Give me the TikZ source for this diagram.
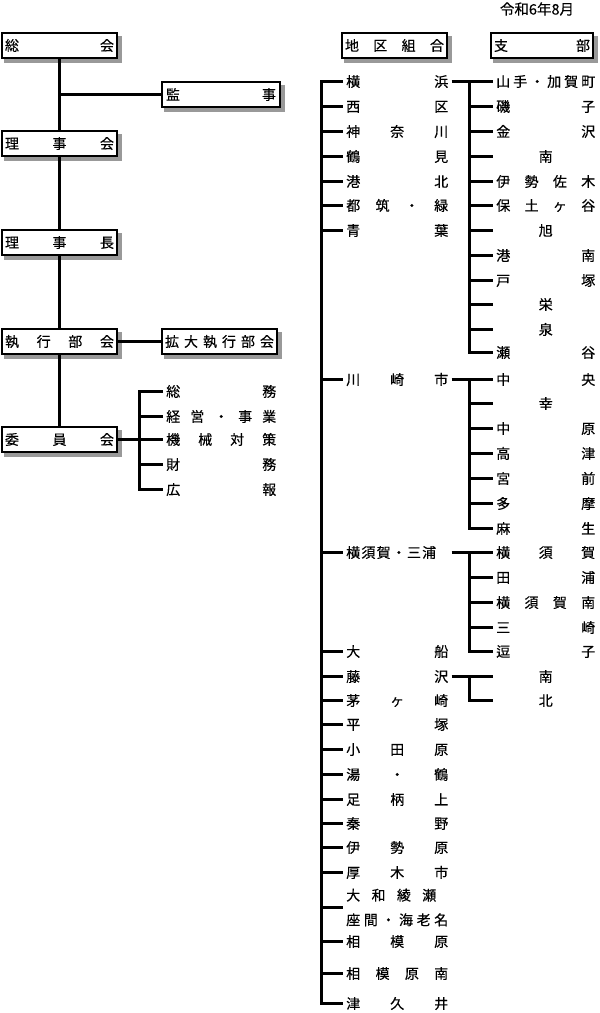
\documentclass[tikz,border=0pt]{standalone}
\usepackage{fontspec}
\newfontfamily\jfont{Noto Sans CJK JP}[FakeBold=0.4]
\usetikzlibrary{backgrounds}
\makeatletter
% spread the characters of #2 evenly over a box of width #1
\def\kt@go#1\kt@end{\@tfor\kt@c:=#1\do{\kt@sep\kt@c\let\kt@sep\hfill}}
\newcommand\kintou[2]{\edef\kt@arg{#2}%
  \makebox[#1][s]{\let\kt@sep\relax\expandafter\kt@go\kt@arg\kt@end}}
\makeatother

\begin{document}
\begin{tikzpicture}[x=1pt, y=-1pt, line width=2.5pt,
    font=\jfont\fontsize{14}{24.6}\selectfont,
    orgbox/.style={draw, line width=2.2pt, fill=white, inner xsep=3pt, inner ysep=0pt,
        minimum height=25pt, text height=12.3pt, text depth=1.7pt},
    item/.style={anchor=west, inner xsep=2pt, inner ysep=0pt,
        text height=12.3pt, text depth=1.7pt}]
    % page is 600 x 1013 (1 unit = 1pt, y downwards)
    \useasboundingbox (0,0) rectangle (600,1013);
    \def\dw{102pt}   % width of a district name
    \def\bw{99pt}    % width of a branch name
    \coordinate (ibus) at (139.5,0);
    \coordinate (dbus) at (321.5,0);
    \coordinate (bbus) at (469.5,0);

    \node (date) at (537,9) {\fontsize{14.5}{14.5}\selectfont 令和6年8月};

    % Left column
    \node[orgbox] (soukai)   at (59.5,45.5)  {\kintou{109pt}{総会}};
    \node[orgbox, inner xsep=4pt] (kanji) at (221,94.5) {\kintou{110pt}{監事}};
    \node[orgbox] (rijikai)  at (59.5,143.5) {\kintou{109pt}{理事会}};
    \node[orgbox] (rijichou) at (59.5,242.5) {\kintou{109pt}{理事長}};
    \node[orgbox] (shikkou)  at (59.5,341.5) {\kintou{109pt}{執行部会}};
    \node[orgbox] (kakudai)  at (219.5,341.5) {\kintou{109pt}{拡大執行部会}};
    \node[orgbox] (iinkai)   at (59.5,439.5) {\kintou{109pt}{委員会}};

    \draw (soukai) -- (rijikai) -- (rijichou) -- (shikkou) -- (iinkai);
    \draw (soukai.south |- kanji.west) -- (kanji.west);
    \draw (shikkou) -- (kakudai);

    % Committees
    \foreach \y/\lbl [count=\i] in {391.5/総務, 416.5/経営・事業, 439.5/機械対策, 464.5/財務, 489.5/広報}
        \node[item] (c\i) at (163,\y) {\kintou{110pt}{\lbl}};
    \draw (iinkai.east) -- (ibus |- iinkai.east);
    \draw (c1.west) -- (ibus |- c1.west) -- (ibus |- c5.west) -- (c5.west);
    \foreach \i in {2,3,4} \draw (ibus |- c\i.west) -- (c\i.west);

    % Headings of the right part
    \node[orgbox] (chiku) at (394.5,45.5) {\kintou{99pt}{地区組合}};
    \node[orgbox] (shibu) at (542,45.5)   {\kintou{96pt}{支部}};

    % Districts
    \foreach \i/\y/\lbl in {1/81.5/横浜, 2/106.5/西区, 3/131.5/神奈川, 4/156.5/鶴見, 5/181.5/港北,
        6/205.5/都筑・緑, 7/230.5/青葉, 8/379.5/川崎市, 10/651.5/大船, 11/676.5/藤沢,
        12/700.5/茅ヶ崎, 13/724.5/平塚, 14/749.5/小田原, 15/774.5/湯・鶴, 16/799.5/足柄上,
        17/823.5/秦野, 18/847.5/伊勢原, 19/872.5/厚木市, 21/941.5/相模原, 22/973.5/相模原南,
        23/1003.5/津久井}
        \node[item] (d\i) at (343,\y) {\kintou{\dw}{\lbl}};
    \node[item] (d9) at (343,552.5) {\makebox[\dw][l]{\kintou{90pt}{横須賀・三浦}}};
    \node[anchor=west, inner xsep=2pt, inner ysep=0pt, align=left] (d20) at (343,907.5)
        {\makebox[\dw][l]{\kintou{90pt}{大和綾瀬}}\\\kintou{\dw}{座間・海老名}};

    \draw (d1.west) -- (dbus |- d1.west) -- (dbus |- d23.west) -- (d23.west);
    \foreach \i in {2,...,22} \draw (dbus |- d\i.west) -- (d\i.west);

    % Branches of Yokohama
    \foreach \i/\y/\lbl in {1/81.5/山手・加賀町, 2/106.5/磯子, 3/131.5/金沢, 4/156.5/\hfill 南\hfill,
        5/181.5/伊勢佐木, 6/205.5/保土ヶ谷, 7/230.5/\hfill 旭\hfill, 8/255.5/港南, 9/280.5/戸塚,
        10/304.5/\hfill 栄\hfill, 11/329.5/\hfill 泉\hfill, 12/352.5/瀬谷}
        \node[item] (yb\i) at (493,\y) {\kintou{\bw}{\lbl}};
    \draw (d1.east) -- (yb1.west);
    \draw (bbus |- yb1.west) -- (bbus |- yb12.west) -- (yb12.west);
    \foreach \i in {2,...,11} \draw (bbus |- yb\i.west) -- (yb\i.west);

    % Branches of Kawasaki
    \foreach \i/\y/\lbl in {1/379.5/中央, 2/403.5/\hfill 幸\hfill, 3/428.5/中原, 4/453.5/高津,
        5/478.5/宮前, 6/503.5/多摩, 7/528.5/麻生}
        \node[item] (kb\i) at (493,\y) {\kintou{\bw}{\lbl}};
    \draw (d8.east) -- (kb1.west);
    \draw (bbus |- kb1.west) -- (bbus |- kb7.west) -- (kb7.west);
    \foreach \i in {2,...,6} \draw (bbus |- kb\i.west) -- (kb\i.west);

    % Branches of Yokosuka-Miura
    \foreach \i/\y/\lbl in {1/552.5/横須賀, 2/577.5/田浦, 3/602.5/横須賀南, 4/627.5/三崎, 5/651.5/逗子}
        \node[item] (sb\i) at (493,\y) {\kintou{\bw}{\lbl}};
    \draw (d9.east) -- (sb1.west);
    \draw (bbus |- sb1.west) -- (bbus |- sb5.west) -- (sb5.west);
    \foreach \i in {2,3,4} \draw (bbus |- sb\i.west) -- (sb\i.west);

    % Branches of Fujisawa
    \foreach \i/\y/\lbl in {1/676.5/\hfill 南\hfill, 2/700.5/\hfill 北\hfill}
        \node[item] (fb\i) at (493,\y) {\kintou{\bw}{\lbl}};
    \draw (d11.east) -- (fb1.west);
    \draw (bbus |- fb1.west) -- (bbus |- fb2.west) -- (fb2.west);

    % Shadows of the boxes
    \begin{pgfonlayer}{background}
        \foreach \b in {soukai, kanji, rijikai, rijichou, shikkou, kakudai, iinkai, chiku, shibu}
            \fill[black!40] ([shift={(3.5,0)}]\b.north west |- \b.south east)
                ++(0,3.5) rectangle ([shift={(3.5,4)}]\b.north east);
    \end{pgfonlayer}
\end{tikzpicture}
\end{document}
